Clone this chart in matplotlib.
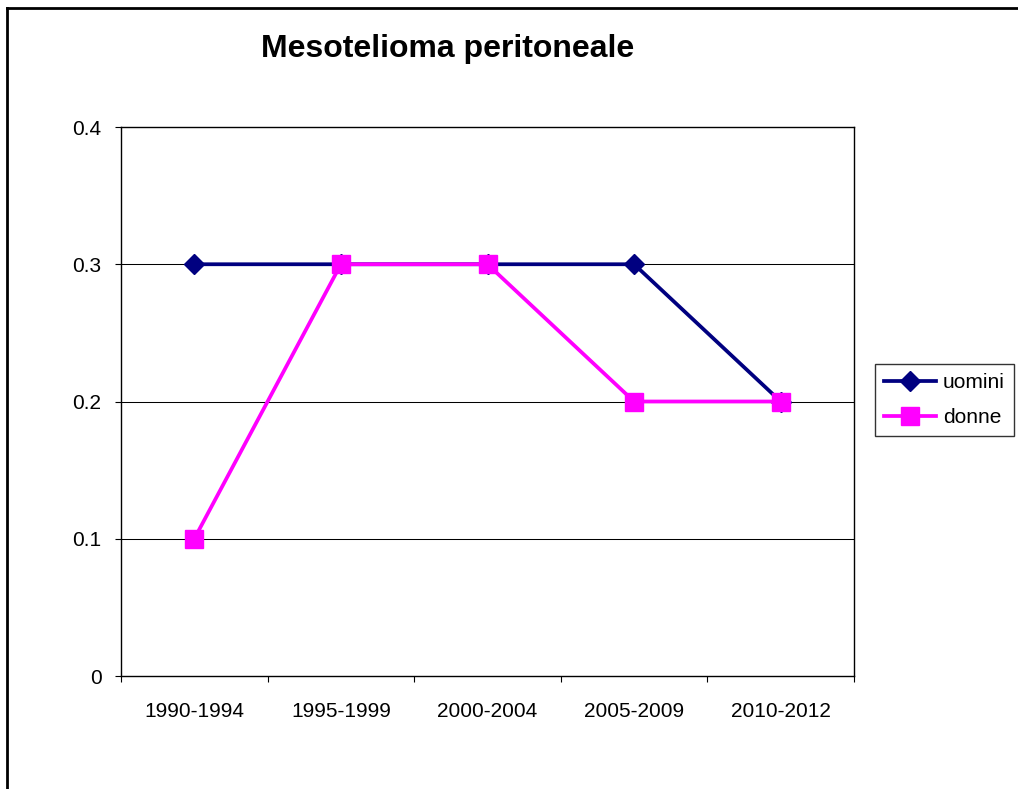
import matplotlib
matplotlib.use("Agg")
import matplotlib.pyplot as plt
from matplotlib.lines import Line2D
from matplotlib.ticker import FixedLocator

categories = ["1990-1994", "1995-1999", "2000-2004", "2005-2009", "2010-2012"]
uomini = [0.3, 0.3, 0.3, 0.3, 0.2]
donne = [0.1, 0.3, 0.3, 0.2, 0.2]
yticks = [0, 0.1, 0.2, 0.3, 0.4]
ytick_labels = ["0", "0.1", "0.2", "0.3", "0.4"]
title = "Mesotelioma peritoneale"

plt.rcParams['font.family'] = ['Liberation Sans', 'DejaVu Sans']

W, H = 1018, 789
fig = plt.figure(figsize=(W / 100, H / 100), dpi=100)
fig.patch.set_facecolor("white")

ax = fig.add_axes([121 / W, 1 - 676 / H, (854 - 121) / W, (676 - 127) / H])
x = list(range(len(categories)))

ax.plot(x, uomini, color="#000080", lw=2.7, marker="D", ms=10.5,
        markerfacecolor="#000080", markeredgecolor="#000080", label="uomini", zorder=3)
ax.plot(x, donne, color="#FF00FF", lw=2.7, marker="s", ms=13.5,
        markerfacecolor="#FF00FF", markeredgecolor="#FF00FF", label="donne", zorder=4)

ax.set_xlim(-0.5, len(categories) - 0.5)
ax.set_ylim(0, 0.4)
ax.set_yticks(yticks)
ax.set_yticklabels(ytick_labels)
ax.set_xticks(x)
ax.set_xticklabels(categories)
ax.xaxis.set_minor_locator(FixedLocator([i - 0.5 for i in range(len(categories) + 1)]))
ax.tick_params(axis="x", which="major", length=0, pad=19, labelsize=15)
ax.tick_params(axis="x", which="minor", length=4, width=0.8, direction="out")
ax.tick_params(axis="y", length=4, width=0.8, direction="out", pad=10, labelsize=15)

for v in yticks[1:-1]:
    ax.axhline(v, color="black", lw=0.75, zorder=1)
for s in ax.spines.values():
    s.set_linewidth(1.0)
    s.set_color("black")

fig.text(448 / W, 1 - 49 / H, title, ha="center", va="center",
         fontsize=23, fontweight="bold")

leg = fig.legend(loc="center left", bbox_to_anchor=(875 / W, 1 - 400 / H),
                 fontsize=15, frameon=True, fancybox=False, shadow=False,
                 handlelength=2.5, handletextpad=0.3, borderpad=0.45,
                 labelspacing=0.75, borderaxespad=0)
leg.get_frame().set_edgecolor("black")
leg.get_frame().set_linewidth(1.0)

# outer border
fig.add_artist(Line2D([7 / W, 7 / W], [0, 1 - 8 / H], transform=fig.transFigure,
                      color="black", lw=2.0))
fig.add_artist(Line2D([7 / W, 1], [1 - 8 / H, 1 - 8 / H], transform=fig.transFigure,
                      color="black", lw=2.0))

fig.savefig("out.png", dpi=100)
